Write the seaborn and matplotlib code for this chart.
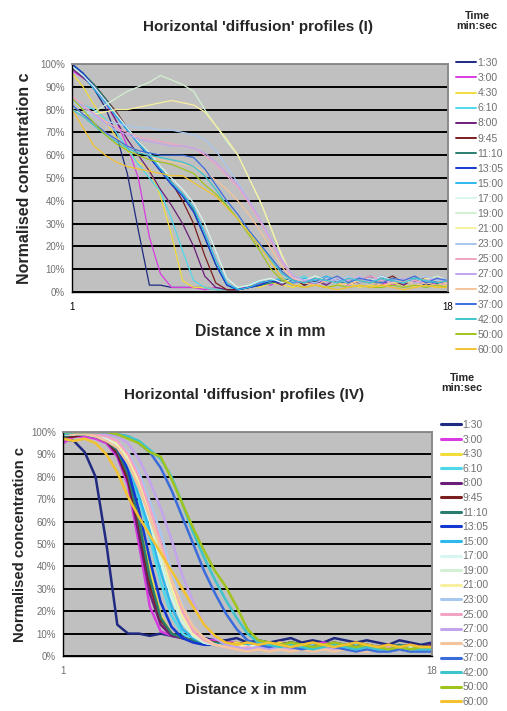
import numpy as np
import pandas as pd
import matplotlib
matplotlib.use("Agg")
import matplotlib.pyplot as plt
import seaborn as sns
from matplotlib.ticker import PercentFormatter, FixedLocator

# x positions (mm) of the sampled profile points
distance_mm = [1, 1.5, 2, 2.5, 3, 3.5, 4, 4.5, 5, 5.5, 6, 6.5, 7, 7.5, 8, 8.5, 9, 9.5,
               10, 10.5, 11, 11.5, 12, 12.5, 13, 13.5, 14, 14.5, 15, 15.5, 16, 16.5, 17, 17.5, 18]

times = ["1:30", "3:00", "4:30", "6:10", "8:00", "9:45", "11:10", "13:05", "15:00", "17:00",
         "19:00", "21:00", "23:00", "25:00", "27:00", "32:00", "37:00", "42:00", "50:00", "60:00"]

colours = ["#1f2a80", "#d83ce0", "#f2dc3a", "#4fd8ea", "#6a1f78", "#7a1e1e", "#2a7e70", "#1438d0",
           "#2eb8ec", "#d8f6f0", "#d2f0d2", "#f8f0a0", "#a8c8f0", "#f2a4c4", "#c4a4ec", "#f4c49c",
           "#3a6cdc", "#3ec4cc", "#a0c41e", "#f2c230"]

# profiles (I), concentration in %
i_0130 = [99, 95, 89, 81, 69, 52, 27, 3, 3, 2, 2, 2, 2, 1, 1, 1, 2, 3, 5, 4, 6, 3, 5, 4, 6, 3, 5, 4, 3, 6, 4, 5, 3, 4, 5]
i_0300 = [97, 94, 90, 83, 75, 64, 50, 24, 8, 2, 2, 2, 1, 2, 1, 2, 2, 4, 3, 6, 4, 5, 3, 6, 4, 3, 5, 6, 4, 3, 5, 4, 6, 3, 4]
i_0430 = [96, 90, 82, 75, 68, 62, 57, 54, 42, 25, 5, 2, 2, 1, 1, 2, 3, 2, 4, 3, 2, 4, 3, 2, 3, 4, 2, 3, 2, 4, 3, 2, 3, 2, 3]
i_0610 = [84, 82, 80, 76, 70, 63, 56, 50, 44, 32, 18, 5, 2, 1, 1, 2, 3, 5, 4, 6, 5, 7, 4, 6, 5, 4, 6, 5, 4, 6, 5, 4, 5, 6, 4]
i_0800 = [98, 94, 90, 84, 75, 67, 60, 53, 45, 38, 30, 20, 7, 2, 1, 1, 2, 4, 5, 3, 6, 4, 5, 3, 6, 4, 5, 7, 4, 5, 3, 6, 4, 5, 4]
i_0945 = [99, 95, 91, 85, 79, 72, 66, 60, 54, 48, 40, 30, 16, 4, 1, 1, 2, 3, 5, 4, 6, 3, 5, 4, 6, 5, 4, 6, 5, 7, 4, 5, 6, 4, 5]
i_1110 = [100, 96, 91, 85, 78, 72, 66, 60, 54, 48, 43, 36, 24, 12, 3, 1, 2, 3, 4, 5, 6, 4, 5, 6, 4, 5, 6, 4, 5, 6, 5, 4, 5, 6, 4]
i_1305 = [100, 96, 90, 84, 77, 71, 65, 59, 53, 47, 42, 35, 24, 12, 3, 1, 2, 3, 5, 4, 6, 5, 4, 6, 5, 4, 6, 5, 7, 5, 4, 6, 5, 4, 5]
i_1500 = [99, 95, 89, 83, 77, 71, 65, 60, 54, 48, 43, 37, 26, 14, 4, 1, 2, 4, 5, 6, 4, 6, 5, 7, 5, 4, 6, 5, 6, 4, 5, 6, 4, 5, 6]
i_1700 = [99, 95, 90, 84, 78, 72, 66, 61, 55, 50, 45, 39, 30, 18, 6, 2, 3, 5, 6, 4, 6, 5, 7, 5, 6, 4, 6, 5, 7, 5, 6, 4, 5, 6, 5]
i_1900 = [80, 78, 79, 82, 85, 88, 90, 92, 95, 93, 91, 88, 80, 73, 66, 60, 50, 40, 28, 15, 6, 5, 7, 4, 6, 5, 7, 4, 6, 5, 4, 6, 5, 7, 5]
i_2100 = [84, 80, 78, 79, 80, 80, 81, 82, 83, 84, 83, 82, 79, 73, 67, 60, 50, 40, 28, 16, 6, 4, 6, 5, 7, 4, 5, 6, 4, 6, 5, 4, 6, 5, 4]
i_2300 = [84, 80, 77, 75, 74, 73, 72, 72, 71, 71, 70, 69, 67, 62, 55, 48, 40, 32, 23, 14, 7, 5, 4, 6, 5, 7, 4, 6, 5, 4, 6, 5, 7, 5, 6]
i_2500 = [86, 82, 78, 75, 72, 70, 68, 67, 66, 65, 64, 63, 60, 56, 51, 46, 39, 31, 22, 13, 6, 4, 6, 5, 4, 6, 5, 7, 5, 4, 6, 5, 4, 6, 5]
i_2700 = [85, 81, 78, 74, 71, 69, 67, 66, 65, 64, 64, 63, 61, 57, 52, 47, 40, 32, 23, 14, 7, 5, 6, 4, 6, 5, 7, 4, 6, 5, 6, 4, 5, 6, 4]
i_3200 = [82, 78, 74, 70, 67, 64, 62, 60, 58, 57, 56, 55, 53, 49, 45, 40, 34, 27, 19, 11, 5, 4, 3, 5, 4, 3, 5, 4, 3, 4, 5, 3, 4, 3, 4]
i_3700 = [82, 78, 74, 70, 67, 64, 62, 61, 60, 60, 60, 59, 54, 47, 40, 34, 27, 21, 15, 9, 5, 4, 6, 5, 7, 4, 6, 5, 4, 6, 5, 7, 4, 6, 5]
i_4200 = [80, 77, 73, 69, 66, 63, 61, 60, 59, 58, 57, 55, 51, 45, 38, 32, 26, 20, 14, 8, 5, 4, 6, 5, 4, 6, 5, 4, 6, 5, 4, 6, 5, 4, 5]
i_5000 = [85, 80, 74, 69, 65, 62, 60, 58, 57, 56, 54, 52, 47, 43, 38, 32, 25, 18, 10, 5, 3, 2, 3, 2, 3, 2, 3, 2, 2, 3, 2, 3, 2, 3, 2]
i_6000 = [80, 72, 64, 60, 57, 55, 54, 53, 52, 51, 51, 48, 45, 42, 37, 32, 26, 20, 13, 6, 3, 2, 3, 2, 1, 2, 3, 2, 3, 2, 1, 2, 3, 2, 2]

# profiles (IV), concentration in %
iv_0130 = [97, 96, 91, 80, 50, 14, 10, 10, 9, 10, 9, 9, 8, 8, 7, 7, 8, 6, 7, 6, 7, 8, 6, 7, 6, 8, 7, 6, 7, 6, 5, 7, 6, 5, 6]
iv_0300 = [95, 98, 98, 97, 95, 89, 76, 50, 22, 11, 9, 8, 8, 7, 7, 6, 6, 5, 6, 5, 6, 5, 4, 5, 6, 5, 4, 5, 5, 4, 5, 4, 5, 4, 4]
iv_0430 = [98, 99, 99, 98, 96, 91, 80, 62, 38, 18, 10, 8, 7, 6, 6, 5, 6, 5, 4, 5, 6, 4, 5, 4, 5, 4, 5, 4, 3, 4, 5, 4, 3, 4, 4]
iv_0610 = [99, 99, 99, 98, 97, 93, 84, 70, 53, 33, 18, 10, 7, 6, 5, 5, 4, 5, 4, 5, 4, 5, 4, 5, 4, 3, 4, 5, 4, 3, 4, 3, 4, 3, 3]
iv_0800 = [98, 98, 99, 98, 96, 90, 78, 54, 28, 14, 9, 8, 7, 7, 6, 6, 5, 6, 5, 6, 5, 6, 5, 4, 5, 6, 5, 4, 5, 4, 5, 4, 5, 4, 5]
iv_0945 = [98, 98, 99, 98, 96, 91, 79, 58, 32, 16, 10, 8, 7, 7, 6, 6, 5, 6, 5, 6, 5, 6, 5, 6, 5, 4, 5, 6, 5, 4, 5, 4, 5, 4, 4]
iv_1110 = [98, 99, 99, 98, 96, 92, 81, 60, 35, 17, 10, 8, 7, 6, 6, 5, 5, 6, 5, 4, 5, 6, 5, 4, 5, 4, 5, 4, 5, 4, 4, 5, 4, 4, 4]
iv_1305 = [99, 99, 99, 98, 97, 93, 83, 65, 43, 24, 13, 8, 6, 5, 5, 4, 5, 4, 5, 6, 5, 4, 5, 4, 3, 4, 5, 4, 3, 4, 2, 3, 2, 3, 3]
iv_1500 = [99, 99, 99, 98, 97, 94, 86, 72, 56, 38, 22, 12, 8, 6, 5, 5, 4, 5, 4, 5, 4, 5, 4, 3, 4, 5, 4, 3, 4, 3, 2, 3, 2, 3, 3]
iv_1700 = [99, 99, 100, 99, 97, 94, 87, 75, 60, 42, 26, 15, 9, 6, 5, 4, 5, 4, 5, 4, 3, 4, 5, 4, 3, 4, 3, 4, 3, 4, 3, 4, 3, 3, 3]
iv_1900 = [99, 99, 100, 99, 98, 95, 88, 76, 61, 44, 28, 16, 9, 6, 5, 4, 5, 4, 3, 4, 5, 4, 3, 4, 3, 4, 3, 4, 3, 4, 3, 3, 4, 3, 3]
iv_2100 = [99, 100, 100, 99, 98, 95, 89, 78, 64, 48, 31, 18, 10, 7, 5, 4, 5, 4, 3, 4, 5, 4, 3, 4, 3, 4, 3, 4, 3, 4, 3, 4, 3, 4, 3]
iv_2300 = [99, 100, 100, 99, 98, 96, 91, 82, 69, 55, 38, 23, 13, 8, 5, 4, 4, 3, 4, 5, 4, 3, 4, 3, 4, 3, 4, 3, 4, 3, 4, 3, 3, 4, 3]
iv_2500 = [99, 100, 100, 99, 98, 96, 90, 80, 66, 51, 34, 20, 11, 7, 5, 4, 3, 4, 3, 4, 3, 4, 3, 4, 3, 4, 3, 4, 3, 3, 4, 3, 3, 3, 3]
iv_2700 = [99, 100, 100, 100, 99, 98, 95, 88, 78, 66, 52, 36, 24, 14, 8, 5, 4, 3, 4, 3, 4, 3, 4, 3, 4, 3, 4, 3, 4, 3, 3, 4, 3, 3, 3]
iv_3200 = [99, 99, 99, 98, 96, 93, 86, 75, 62, 48, 34, 22, 13, 8, 5, 4, 3, 2, 3, 2, 3, 2, 3, 2, 3, 2, 3, 2, 2, 3, 2, 3, 2, 3, 2]
iv_3700 = [99, 100, 100, 100, 100, 99, 98, 95, 91, 84, 74, 62, 50, 38, 28, 19, 12, 7, 5, 4, 5, 4, 3, 4, 5, 4, 3, 2, 3, 2, 2, 3, 2, 2, 2]
iv_4200 = [99, 100, 100, 100, 100, 99, 98, 96, 92, 88, 80, 68, 55, 44, 34, 25, 17, 10, 6, 5, 4, 5, 4, 3, 4, 5, 4, 3, 4, 3, 3, 4, 3, 3, 3]
iv_5000 = [100, 100, 100, 100, 100, 99, 97, 95, 91, 89, 79, 68, 57, 47, 38, 31, 22, 12, 7, 6, 5, 6, 5, 4, 5, 6, 5, 4, 5, 4, 3, 4, 3, 4, 4]
iv_6000 = [97, 96, 97, 95, 90, 82, 71, 62, 54, 46, 38, 30, 22, 14, 9, 6, 5, 6, 5, 6, 5, 4, 5, 6, 5, 4, 5, 6, 5, 4, 5, 4, 5, 4, 4]

series_I = [i_0130, i_0300, i_0430, i_0610, i_0800, i_0945, i_1110, i_1305, i_1500, i_1700,
            i_1900, i_2100, i_2300, i_2500, i_2700, i_3200, i_3700, i_4200, i_5000, i_6000]
series_IV = [iv_0130, iv_0300, iv_0430, iv_0610, iv_0800, iv_0945, iv_1110, iv_1305, iv_1500, iv_1700,
             iv_1900, iv_2100, iv_2300, iv_2500, iv_2700, iv_3200, iv_3700, iv_4200, iv_5000, iv_6000]

sns.set_style("white")
plt.rcParams["font.family"] = ["Liberation Sans", "DejaVu Sans"]

W, H = 507, 711
fig = plt.figure(figsize=(W / 100, H / 100), dpi=100)
palette = dict(zip(times, colours))


def fx(px):
    return px / W


def fy(py):
    return 1 - py / H


def draw_panel(rect, series, lw, title, title_xy, xlabel_xy, ylabel_x, label_size,
               tick_color, legend_xy, legend_lw, label_sp):
    x0, y0, x1, y1 = rect
    ax = fig.add_axes([fx(x0), fy(y1), fx(x1) - fx(x0), fy(y0) - fy(y1)])
    df = pd.DataFrame({
        "distance": np.tile(distance_mm, len(times)),
        "conc": np.concatenate(series),
        "time": np.repeat(times, len(distance_mm)),
    })
    sns.lineplot(data=df, x="distance", y="conc", hue="time", hue_order=times,
                 palette=palette, linewidth=lw, estimator=None, ax=ax)
    ax.set_xlim(1, 18)
    ax.set_ylim(0, 100)
    ax.set_facecolor("#c0c0c0")
    ax.set_axisbelow(True)
    ax.yaxis.grid(True, color="black", linewidth=1.4)
    ax.set_yticks(range(0, 101, 10))
    ax.yaxis.set_major_formatter(PercentFormatter(100, decimals=0))
    ax.set_xticks([1, 18])
    ax.xaxis.set_minor_locator(FixedLocator([1 + 17 / 16 * k for k in range(17)]))
    ax.tick_params(axis="both", which="both", direction="out", length=3, width=1,
                   color="black", labelsize=7, pad=2)
    ax.tick_params(axis="y", labelcolor="#707070")
    ax.tick_params(axis="x", labelcolor=tick_color, pad=4)
    for side in ["left", "bottom"]:
        ax.spines[side].set_color("black")
        ax.spines[side].set_linewidth(1.0)
    for side in ["top", "right"]:
        ax.spines[side].set_color("#8a8a8a")
        ax.spines[side].set_linewidth(1.4)
    ax.set_xlabel("Distance x in mm", fontsize=label_size[0], fontweight="bold")
    ax.set_ylabel("Normalised concentration c", fontsize=label_size[1], fontweight="bold")
    ax.xaxis.set_label_coords((xlabel_xy[0] - x0) / (x1 - x0), (y1 - xlabel_xy[1]) / (y1 - y0))
    ax.xaxis.label.set_va("center")
    ax.yaxis.set_label_coords((ylabel_x - x0) / (x1 - x0), 0.5)
    ax.yaxis.label.set_va("center")
    fig.text(fx(title_xy[0]), fy(title_xy[1]), title, ha="center", va="center",
             fontsize=11, fontweight="bold")
    fig.text(fx(legend_xy[0] + 21), fy(legend_xy[1] - 42), "Time\nmin:sec", ha="center",
             va="center", fontsize=7.8, fontweight="bold", linespacing=1.0)
    handles, labels = ax.get_legend_handles_labels()
    for h in handles:
        h.set_linewidth(legend_lw)
    leg = ax.legend(handles, labels, loc="upper left",
                    bbox_to_anchor=(fx(legend_xy[0]), fy(legend_xy[1] - 5)),
                    bbox_transform=fig.transFigure, frameon=False, fontsize=7.5,
                    handlelength=1.9, handletextpad=0.15, labelspacing=label_sp,
                    borderpad=0, borderaxespad=0)
    for t in leg.get_texts():
        t.set_color("#707070")
    return ax


draw_panel((72, 64, 448, 292), series_I, 0.9, "Horizontal 'diffusion' profiles (I)", (258, 27),
           (260, 332), 25, (11.4, 11.5), "black", (456, 63), 1.4, 0.49)
draw_panel((63, 432, 432, 656), series_IV, 1.8, "Horizontal 'diffusion' profiles (IV)", (244, 395),
           (246, 690), 20, (10.7, 10.7), "#707070", (441, 425), 2.2, 0.44)

fig.savefig("out.png", dpi=100, facecolor="white")
